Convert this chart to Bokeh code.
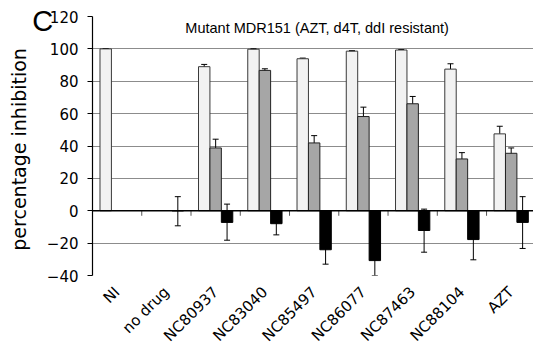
import math
from bokeh.plotting import figure
from bokeh.models import (ColumnDataSource, Range1d, FixedTicker, Whisker, TeeHead,
                          Span, Label)
from bokeh.embed import file_html
from bokeh.resources import INLINE

categories = ["NI", "no drug", "NC80937", "NC83040", "NC85497", "NC86077",
              "NC87463", "NC88104", "AZT"]

# light series (None = no bar)
light_vals = [100.0, None, 89.0, 99.8, 93.9, 98.6, 99.3, 87.5, 47.5]
light_hi   = [100.2, None, 90.4, 100.1, 94.3, 98.9, 99.6, 90.8, 52.2]
light_lo   = [99.8, None, 87.7, 99.5, 93.5, 98.3, 99.0, 84.4, 41.3]

# medium grey series
mid_vals = [None, None, 38.8, 86.7, 41.9, 58.2, 66.1, 32.0, 35.5]
mid_hi   = [None, None, 44.2, 87.7, 46.4, 64.0, 70.6, 35.9, 38.8]
mid_lo   = [None, None, 27.2, 79.4, 32.6, 46.0, 52.4, 18.6, 19.6]

# black series
dark_vals = [None, 0.0, -7.2, -8.0, -24.1, -30.8, -12.2, -17.8, -7.2]
dark_hi   = [None, 8.7, 4.1, -1.1, -15.2, -21.6, 1.0, -5.3, 8.7]
dark_lo   = [None, -9.3, -18.2, -14.9, -33.0, -40.0, -25.6, -30.3, -23.3]

y_ticks = [-40, -20, 0, 20, 40, 60, 80, 100, 120]
title_text = "Mutant MDR151 (AZT, d4T, ddI resistant)"
y_label = "percentage inhibition"
panel_letter = "C"

FONT = "DejaVu Sans"
BAR_W = 0.232
OFFSETS = [-0.232, 0.0, 0.232]

p = figure(width=533, height=356, output_backend="svg", toolbar_location=None,
           x_range=Range1d(-0.5, 8.453), y_range=Range1d(-40, 120),
           min_border=0, min_border_left=92, min_border_top=16,
           min_border_bottom=81, min_border_right=0)
p.outline_line_color = None
p.background_fill_color = "white"
p.border_fill_color = "white"

# grid
p.xgrid.grid_line_color = None
p.ygrid.ticker = FixedTicker(ticks=y_ticks)
p.ygrid.grid_line_color = "#8c8c8c"
p.ygrid.grid_line_width = 1

# y axis (numbers only; its title is a Label in the left panel)
p.yaxis.ticker = FixedTicker(ticks=y_ticks)
p.yaxis.axis_line_color = "black"
p.yaxis.axis_line_width = 1.2
p.yaxis.major_tick_out = 5
p.yaxis.major_tick_in = 0
p.yaxis.minor_tick_line_color = None
p.yaxis.major_label_text_font = FONT
p.yaxis.major_label_text_font_size = "15px"
p.yaxis.major_label_text_color = "black"
p.yaxis.major_label_standoff = 9

# x axis: labels at category centres
centers = list(range(len(categories)))
p.xaxis.ticker = FixedTicker(ticks=centers)
p.xaxis.major_label_overrides = {i: c for i, c in enumerate(categories)}
p.xaxis.major_label_orientation = math.pi / 4
p.xaxis.major_label_text_font = FONT
p.xaxis.major_label_text_font_size = "15px"
p.xaxis.major_label_text_color = "black"
p.xaxis.major_label_standoff = 8
p.xaxis.axis_line_color = None
p.xaxis.major_tick_line_color = None
p.xaxis.minor_tick_line_color = None


def series(vals, hi, lo, off):
    xs, tops, his, los = [], [], [], []
    for i, v in enumerate(vals):
        if v is None:
            continue
        xs.append(i + off)
        tops.append(v)
        his.append(hi[i])
        los.append(lo[i])
    return ColumnDataSource(dict(x=xs, top=tops, upper=his, lower=los))


src_light = series(light_vals, light_hi, light_lo, OFFSETS[0])
src_mid = series(mid_vals, mid_hi, mid_lo, OFFSETS[1])
src_dark = series(dark_vals, dark_hi, dark_lo, OFFSETS[2])

p.vbar(x="x", top="top", bottom=0, width=BAR_W, source=src_light,
       fill_color="#f2f2f2", line_color="#3a3a3a", line_width=1)
p.vbar(x="x", top="top", bottom=0, width=BAR_W, source=src_mid,
       fill_color="#a6a6a6", line_color="#222222", line_width=1)
p.vbar(x="x", top="top", bottom=0, width=BAR_W, source=src_dark,
       fill_color="black", line_color="black", line_width=1)

for src in (src_light, src_mid, src_dark):
    w = Whisker(base="x", upper="upper", lower="lower", source=src,
                line_color="black", line_width=1,
                upper_head=TeeHead(size=6, line_color="black", line_width=1),
                lower_head=TeeHead(size=6, line_color="black", line_width=1))
    p.add_layout(w)

# zero line and category boundary ticks
p.add_layout(Span(location=0, dimension="width", line_color="black", line_width=1.5))
bounds = [i + 0.5 for i in range(len(categories) - 1)]
p.segment(x0=bounds, x1=bounds, y0=[0] * len(bounds), y1=[-3.1] * len(bounds),
          line_color="#555555", line_width=1)

# title inside plot
p.add_layout(Label(x=4.06, y=112.6, text=title_text, text_align="center",
                   text_baseline="middle", text_font="Liberation Sans",
                   text_font_size="14.5px", text_color="black"))

# panel letter and y-axis title, in the left side panel (not clipped to the frame)
p.add_layout(Label(x=-1.51, y=117, text=panel_letter, text_align="center",
                   text_baseline="middle", text_font="Liberation Sans",
                   text_font_size="29px", text_color="black"), "left")
p.add_layout(Label(x=-2.0, y=37.9, text=y_label, angle=math.pi / 2,
                   text_align="center", text_baseline="middle",
                   text_font=FONT, text_font_size="19px",
                   text_color="black"), "left")

open("out.html", "w").write(file_html(p, INLINE))
